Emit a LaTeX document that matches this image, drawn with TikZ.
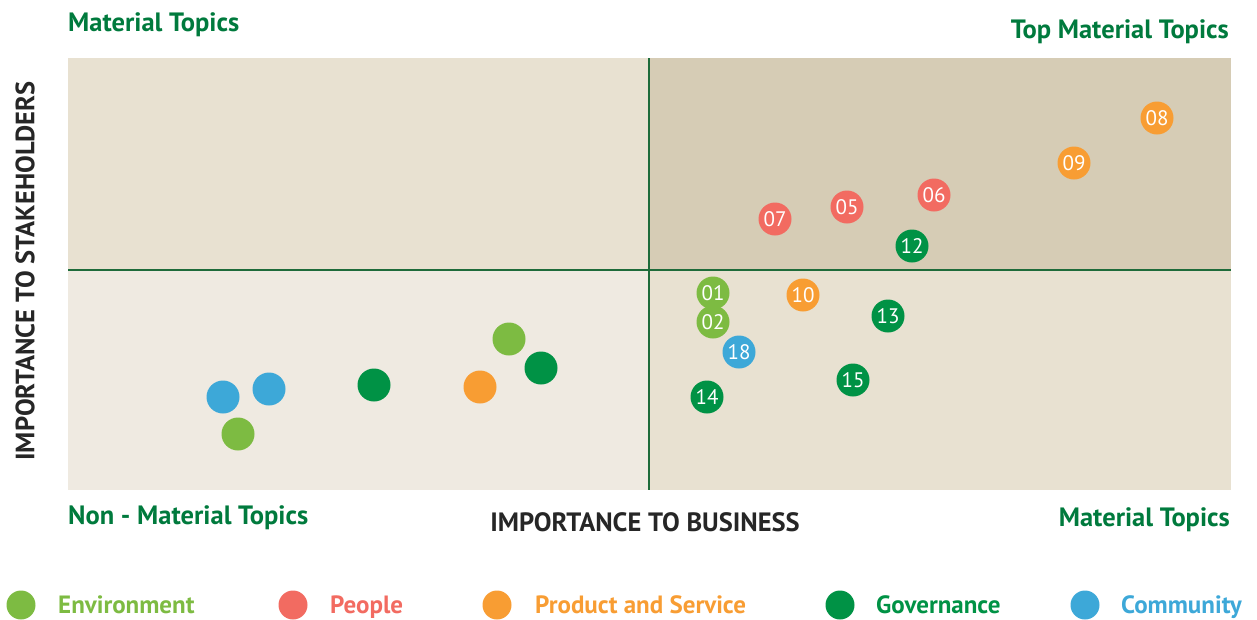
\documentclass[tikz,border=0pt]{standalone}
\usepackage{fontspec}
\setmainfont{PT Sans}
\definecolor{envgreen}{HTML}{7DBB42}
\definecolor{peoplered}{HTML}{F26B61}
\definecolor{prodorange}{HTML}{F89D33}
\definecolor{govgreen}{HTML}{009245}
\definecolor{commblue}{HTML}{3DA8D8}
\definecolor{axisgreen}{HTML}{1E6B3A}
\definecolor{titlegreen}{HTML}{007A3D}
\definecolor{qlight}{HTML}{EFEAE1}
\definecolor{qmid}{HTML}{E8E1D1}
\definecolor{qdark}{HTML}{D6CCB5}
\begin{document}
\begin{tikzpicture}[x=1pt, y=-1pt,
    dot/.style={circle, inner sep=0pt, minimum size=33pt, text=white, font=\fontsize{21}{21}\selectfont},
    keydot/.style={circle, inner sep=0pt, minimum size=29pt},
    heading/.style={font=\bfseries\fontsize{26.5}{26.5}\selectfont, text=titlegreen, inner sep=0pt},
    keytext/.style={font=\bfseries\fontsize{25}{25}\selectfont, inner sep=0pt, anchor=base west}]
    \useasboundingbox (0,0) rectangle (1257,619);

    \fill [qmid] (68,58) rectangle (649,270);
    \fill [qdark] (649,58) rectangle (1231,270);
    \fill [qlight] (68,270) rectangle (649,490);
    \fill [qmid] (649,270) rectangle (1231,490);
    \coordinate (xl) at (68,270);
    \coordinate (xr) at (1231,270);
    \coordinate (yt) at (649,58);
    \coordinate (yb) at (649,490);
    \draw [axisgreen, line width=2.5pt] (xl) -- (xr);
    \draw [axisgreen, line width=2.5pt] (yt) -- (yb);

    \node (mtl) [heading, anchor=west] at (68,25) {Material Topics};
    \node (tmt) [heading, anchor=east] at (1229,32) {Top Material Topics};
    \node (nmt) [heading, anchor=west] at (68,518) {Non - Material Topics};
    \node (mtr) [heading, anchor=east] at (1230,520) {Material Topics};
    \node (xlab) [heading, text=black!85] at (645,522) {IMPORTANCE TO BUSINESS};
    \node (ylab) [heading, text=black!85, rotate=90] at (25,271) {IMPORTANCE TO STAKEHOLDERS};

    \node (t08) [dot, fill=prodorange] at (1157,118) {08};
    \node (t09) [dot, fill=prodorange] at (1074,163) {09};
    \node (t06) [dot, fill=peoplered] at (934,195) {06};
    \node (t05) [dot, fill=peoplered] at (847,207) {05};
    \node (t07) [dot, fill=peoplered] at (775,219) {07};
    \node (t12) [dot, fill=govgreen] at (912,246) {12};
    \node (t10) [dot, fill=prodorange] at (803,295) {10};
    \node (t02) [dot, fill=envgreen] at (713,322) {02};
    \node (t01) [dot, fill=envgreen] at (713,293) {01};
    \node (t13) [dot, fill=govgreen] at (888,316) {13};
    \node (t18) [dot, fill=commblue] at (739,352) {18};
    \node (t15) [dot, fill=govgreen] at (853,380) {15};
    \node (t14) [dot, fill=govgreen] at (707,397) {14};

    \node (u1) [dot, fill=envgreen] at (509,339) {};
    \node (u2) [dot, fill=govgreen] at (541,368) {};
    \node (u3) [dot, fill=prodorange] at (480,387) {};
    \node (u4) [dot, fill=govgreen] at (374,385) {};
    \node (u5) [dot, fill=commblue] at (269,389) {};
    \node (u6) [dot, fill=commblue] at (223,397) {};
    \node (u7) [dot, fill=envgreen] at (238,434) {};

    \node (kenv) [keydot, fill=envgreen] at (21,605) {};
    \node (lenv) [keytext, text=envgreen] at (58,613) {Environment};
    \node (kpeo) [keydot, fill=peoplered] at (293,605) {};
    \node (lpeo) [keytext, text=peoplered] at (330,613) {People};
    \node (kpro) [keydot, fill=prodorange] at (497,605) {};
    \node (lpro) [keytext, text=prodorange] at (535,613) {Product and Service};
    \node (kgov) [keydot, fill=govgreen] at (840,605) {};
    \node (lgov) [keytext, text=govgreen] at (876,613) {Governance};
    \node (kcom) [keydot, fill=commblue] at (1085,605) {};
    \node (lcom) [keytext, text=commblue] at (1121,613) {Community};
\end{tikzpicture}
\end{document}
